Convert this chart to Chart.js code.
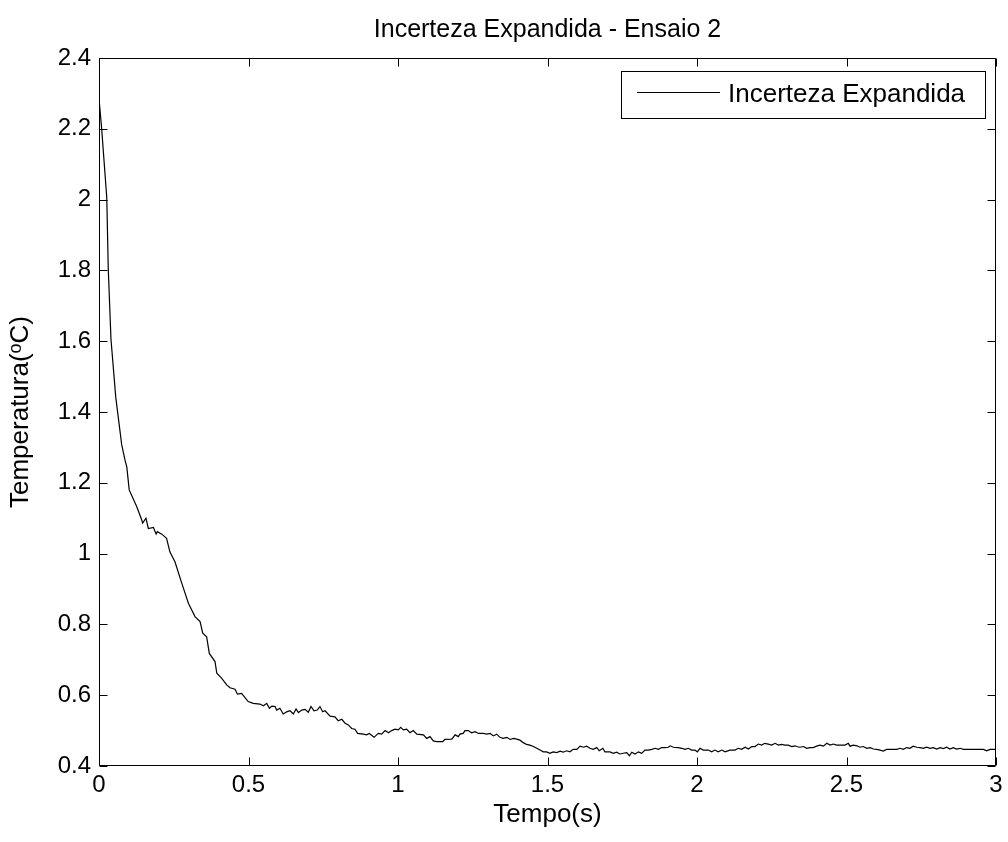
<!DOCTYPE html>
<html>
<head>
<meta charset="utf-8">
<script src="https://cdn.jsdelivr.net/npm/chart.js@4.4.1/dist/chart.umd.min.js"></script>
<style>
  html, body { margin: 0; padding: 0; background: #ffffff; }
  #wrap { width: 1008px; height: 842px; position: relative; }
</style>
</head>
<body>
<div id="wrap"><canvas id="c" width="1008" height="842"></canvas></div>
<script>
// Expanded uncertainty over time, test run 2
const tituloGrafico = 'Incerteza Expandida - Ensaio 2';
const rotuloSerie = 'Incerteza Expandida';
const rotuloX = 'Tempo(s)';
const rotuloY = ['Temperatura(', 'o', 'C)'];   // the "o" is drawn raised and smaller

const tempo = [
  0.000, 0.009, 0.026, 0.031, 0.040, 0.056, 0.076, 0.087, 0.093, 0.101,
  0.126, 0.143, 0.146, 0.157, 0.165, 0.182, 0.191, 0.195, 0.210, 0.226,
  0.237, 0.254, 0.277, 0.299, 0.321, 0.338, 0.347, 0.360, 0.369, 0.388,
  0.394, 0.410, 0.427, 0.438, 0.455, 0.463, 0.477, 0.499, 0.516, 0.538,
  0.550, 0.561, 0.570, 0.578, 0.589, 0.594, 0.605, 0.616, 0.628, 0.639,
  0.650, 0.659, 0.667, 0.678, 0.689, 0.700, 0.709, 0.719, 0.730, 0.739,
  0.748, 0.756, 0.773, 0.789, 0.800, 0.812, 0.823, 0.834, 0.845, 0.856,
  0.865, 0.884, 0.895, 0.904, 0.920, 0.934, 0.945, 0.957, 0.968, 0.979,
  0.990, 1.001, 1.009, 1.018, 1.029, 1.040, 1.051, 1.063, 1.085, 1.096,
  1.107, 1.118, 1.129, 1.149, 1.157, 1.180, 1.191, 1.202, 1.207, 1.218,
  1.224, 1.235, 1.246, 1.258, 1.269, 1.285, 1.297, 1.308, 1.319, 1.330,
  1.341, 1.352, 1.364, 1.375, 1.386, 1.397, 1.408, 1.419, 1.430, 1.441,
  1.453, 1.464, 1.475, 1.486, 1.497, 1.508, 1.519, 1.531, 1.542, 1.553,
  1.564, 1.575, 1.586, 1.598, 1.609, 1.620, 1.631, 1.642, 1.653, 1.665,
  1.673, 1.685, 1.692, 1.709, 1.720, 1.731, 1.742, 1.753, 1.765, 1.774,
  1.782, 1.793, 1.804, 1.815, 1.826, 1.837, 1.849, 1.860, 1.871, 1.882,
  1.893, 1.904, 1.910, 1.921, 1.937, 1.949, 1.960, 1.971, 1.982, 1.993,
  2.001, 2.010, 2.021, 2.038, 2.049, 2.060, 2.071, 2.083, 2.094, 2.110,
  2.127, 2.138, 2.149, 2.161, 2.172, 2.183, 2.194, 2.205, 2.216, 2.227,
  2.238, 2.250, 2.261, 2.272, 2.283, 2.294, 2.305, 2.317, 2.328, 2.333,
  2.344, 2.356, 2.367, 2.378, 2.389, 2.400, 2.411, 2.423, 2.434, 2.445,
  2.456, 2.467, 2.478, 2.495, 2.506, 2.512, 2.523, 2.535, 2.545, 2.556,
  2.568, 2.579, 2.590, 2.601, 2.612, 2.623, 2.634, 2.668, 2.679, 2.690,
  2.701, 2.712, 2.723, 2.735, 2.746, 2.757, 2.768, 2.779, 2.790, 2.802,
  2.813, 2.824, 2.835, 2.846, 2.857, 2.868, 2.880, 2.891, 2.958, 2.969,
  2.980, 3.000
];

const incerteza = [
  2.285, 2.199, 2.005, 1.804, 1.606, 1.442, 1.307, 1.264, 1.245, 1.180,
  1.133, 1.095, 1.086, 1.100, 1.071, 1.074, 1.055, 1.062, 1.055, 1.043,
  1.005, 0.977, 0.916, 0.860, 0.822, 0.808, 0.775, 0.765, 0.718, 0.695,
  0.662, 0.648, 0.629, 0.621, 0.617, 0.603, 0.605, 0.582, 0.577, 0.575,
  0.570, 0.577, 0.563, 0.569, 0.568, 0.558, 0.563, 0.547, 0.553, 0.556,
  0.547, 0.561, 0.551, 0.558, 0.560, 0.552, 0.568, 0.556, 0.558, 0.568,
  0.553, 0.556, 0.541, 0.539, 0.528, 0.532, 0.521, 0.516, 0.506, 0.504,
  0.492, 0.490, 0.488, 0.492, 0.481, 0.492, 0.490, 0.500, 0.494, 0.500,
  0.504, 0.502, 0.509, 0.502, 0.504, 0.494, 0.500, 0.490, 0.488, 0.478,
  0.483, 0.471, 0.469, 0.469, 0.475, 0.476, 0.488, 0.483, 0.490, 0.492,
  0.500, 0.500, 0.494, 0.497, 0.492, 0.492, 0.490, 0.492, 0.485, 0.490,
  0.481, 0.478, 0.481, 0.475, 0.478, 0.476, 0.473, 0.466, 0.461, 0.459,
  0.455, 0.450, 0.445, 0.440, 0.440, 0.436, 0.440, 0.438, 0.442, 0.439,
  0.443, 0.440, 0.447, 0.447, 0.456, 0.453, 0.456, 0.450, 0.447, 0.452,
  0.443, 0.450, 0.440, 0.440, 0.436, 0.439, 0.434, 0.436, 0.438, 0.429,
  0.439, 0.434, 0.440, 0.436, 0.445, 0.445, 0.447, 0.450, 0.447, 0.452,
  0.452, 0.453, 0.457, 0.453, 0.452, 0.450, 0.447, 0.450, 0.445, 0.445,
  0.440, 0.450, 0.445, 0.445, 0.440, 0.445, 0.440, 0.445, 0.440, 0.445,
  0.445, 0.450, 0.447, 0.453, 0.448, 0.455, 0.455, 0.462, 0.459, 0.464,
  0.462, 0.459, 0.464, 0.459, 0.461, 0.459, 0.459, 0.455, 0.457, 0.455,
  0.453, 0.455, 0.450, 0.452, 0.452, 0.456, 0.459, 0.456, 0.464, 0.459,
  0.462, 0.459, 0.459, 0.459, 0.464, 0.456, 0.459, 0.457, 0.453, 0.455,
  0.450, 0.452, 0.448, 0.447, 0.445, 0.442, 0.447, 0.447, 0.450, 0.447,
  0.452, 0.450, 0.456, 0.453, 0.452, 0.450, 0.453, 0.450, 0.452, 0.448,
  0.452, 0.449, 0.453, 0.448, 0.452, 0.448, 0.450, 0.447, 0.447, 0.443,
  0.447, 0.447
];

const FONTE = '"Liberation Sans", Arial, Helvetica, sans-serif';
const TAM_TICK = 24;
const TAM_ROTULO = 26;
const TAM_TITULO = 25;
const TAM_LEGENDA = 26;
const TICK_LEN = 8;

const pontos = tempo.map((t, i) => ({ x: t, y: incerteza[i] }));

// Plot frame, inward tick marks on all four sides, title, y label and legend box
const molduraPlugin = {
  id: 'moldura',
  afterDraw(chart) {
    const ctx = chart.ctx;
    const a = chart.chartArea;
    const sx = chart.scales.x, sy = chart.scales.y;
    ctx.save();
    ctx.strokeStyle = '#000';
    ctx.lineWidth = 1;
    const L = Math.round(a.left) + 0.5, R = Math.round(a.right) - 0.5;
    const T = Math.round(a.top) + 0.5, B = Math.round(a.bottom) - 0.5;
    ctx.beginPath();
    ctx.rect(L, T, R - L, B - T);
    ctx.stroke();
    ctx.beginPath();
    sx.ticks.forEach(tk => {
      const px = Math.round(sx.getPixelForValue(tk.value)) + 0.5;
      ctx.moveTo(px, B); ctx.lineTo(px, B - TICK_LEN);
      ctx.moveTo(px, T); ctx.lineTo(px, T + TICK_LEN);
    });
    sy.ticks.forEach(tk => {
      const py = Math.round(sy.getPixelForValue(tk.value)) + 0.5;
      ctx.moveTo(L, py); ctx.lineTo(L + TICK_LEN, py);
      ctx.moveTo(R, py); ctx.lineTo(R - TICK_LEN, py);
    });
    ctx.stroke();

    // title
    ctx.fillStyle = '#000';
    ctx.font = TAM_TITULO + 'px ' + FONTE;
    ctx.textAlign = 'center';
    ctx.textBaseline = 'middle';
    ctx.fillText(tituloGrafico, (a.left + a.right) / 2, 30);

    // y axis label, rotated, with a raised small "o"
    const fN = TAM_ROTULO + 'px ' + FONTE;
    const fS = Math.round(TAM_ROTULO * 0.7) + 'px ' + FONTE;
    ctx.font = fN; const w0 = ctx.measureText(rotuloY[0]).width;
    const w2 = ctx.measureText(rotuloY[2]).width;
    ctx.font = fS; const w1 = ctx.measureText(rotuloY[1]).width;
    const total = w0 + w1 + w2;
    ctx.save();
    ctx.translate(21, (a.top + a.bottom) / 2);
    ctx.rotate(-Math.PI / 2);
    ctx.textAlign = 'left';
    ctx.textBaseline = 'middle';
    let xx = -total / 2;
    ctx.font = fN; ctx.fillText(rotuloY[0], xx, 0); xx += w0;
    ctx.font = fS; ctx.fillText(rotuloY[1], xx, -5); xx += w1;
    ctx.font = fN; ctx.fillText(rotuloY[2], xx, 0);
    ctx.restore();

    // legend
    const ds = chart.data.datasets[0];
    const bx = 621.5, by = 71.5, bw = 364, bh = 47;
    ctx.fillStyle = '#fff';
    ctx.fillRect(bx, by, bw, bh);
    ctx.strokeStyle = '#000';
    ctx.strokeRect(bx, by, bw, bh);
    ctx.beginPath();
    ctx.lineWidth = 1;
    ctx.moveTo(637, 92.5); ctx.lineTo(720, 92.5);
    ctx.stroke();
    ctx.fillStyle = '#000';
    ctx.font = TAM_LEGENDA + 'px ' + FONTE;
    ctx.textAlign = 'left';
    ctx.textBaseline = 'middle';
    ctx.fillText(ds.label, 728, 95);
    ctx.restore();
  }
};

new Chart(document.getElementById('c'), {
  type: 'line',
  data: {
    datasets: [{
      label: rotuloSerie,
      data: pontos,
      borderColor: '#000',
      borderWidth: 1.2,
      pointRadius: 0,
      tension: 0,
      fill: false
    }]
  },
  options: {
    responsive: false,
    animation: false,
    layout: { padding: { left: 0, top: 58, right: 12, bottom: 0 } },
    plugins: { legend: { display: false }, title: { display: false }, tooltip: { enabled: false } },
    scales: {
      x: {
        type: 'linear',
        min: 0, max: 3,
        border: { display: false },
        grid: { display: false, drawTicks: false },
        ticks: {
          stepSize: 0.5,
          padding: 5,
          color: '#000',
          font: { family: FONTE, size: TAM_TICK },
          maxRotation: 0,
          callback: v => String(Math.round(v * 10) / 10)
        },
        title: {
          display: true,
          text: rotuloX,
          color: '#000',
          font: { family: FONTE, size: TAM_ROTULO },
          padding: { top: 0, bottom: 12 }
        },
        afterFit(scale) { scale.height = 76; }
      },
      y: {
        type: 'linear',
        min: 0.4, max: 2.4,
        border: { display: false },
        grid: { display: false, drawTicks: false },
        ticks: {
          stepSize: 0.2,
          padding: 8,
          color: '#000',
          font: { family: FONTE, size: TAM_TICK },
          callback: v => String(Math.round(v * 10) / 10)
        },
        title: { display: false },
        afterFit(scale) { scale.width = 99; }
      }
    }
  },
  plugins: [molduraPlugin]
});
</script>
</body>
</html>
